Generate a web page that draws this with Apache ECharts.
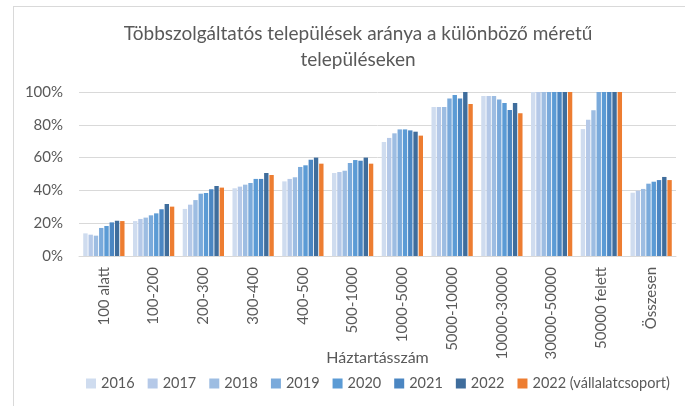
<!DOCTYPE html>
<html>
<head>
<meta charset="utf-8">
<script src="https://cdn.jsdelivr.net/npm/echarts@6/dist/echarts.min.js"></script>
<style>
    html, body { margin: 0; padding: 0; background: #fff; overflow: hidden; }
    #frame { position: absolute; left: 13px; top: 6px; width: 700px; height: 420px; border: 1px solid #d9d9d9; box-sizing: border-box; }
    #chart { position: absolute; left: 0; top: 0; width: 685px; height: 406px; }
</style>
</head>
<body>
<div id="frame"></div>
<div id="chart"></div>
<script>
    // categories (household count bands)
    const categories = ["100 alatt", "100-200", "200-300", "300-400", "400-500", "500-1000",
        "1000-5000", "5000-10000", "10000-30000", "30000-50000", "50000 felett", "Összesen"];

    const seriesNames = ["2016", "2017", "2018", "2019", "2020", "2021", "2022", "2022 (vállalatcsoport)"];
    const colors = ["#cfdcef", "#b5c9e8", "#9dbde2", "#7aaadb", "#5b9bd5", "#4b86c2", "#3f6d9c", "#ed7d31"];

    // values in percent, one array per series
    const v2016 = [13.8, 21.3, 28.7, 41.3, 45.5, 50.6, 69.5, 90.9, 97.6, 100, 77.4, 38.6];
    const v2017 = [13.0, 22.6, 31.3, 42.3, 47.0, 51.2, 72.0, 90.9, 97.6, 100, 83.1, 39.8];
    const v2018 = [12.4, 23.4, 34.1, 43.5, 48.0, 52.0, 74.8, 90.9, 97.6, 100, 88.8, 40.9];
    const v2019 = [17.1, 24.8, 38.0, 44.5, 54.3, 56.7, 77.2, 96.1, 95.5, 100, 100, 44.1];
    const v2020 = [18.3, 26.0, 38.4, 47.0, 55.3, 58.5, 77.2, 98.2, 93.3, 100, 100, 45.3];
    const v2021 = [20.5, 28.5, 40.7, 47.0, 58.7, 58.1, 76.6, 96.1, 89.0, 100, 100, 46.3];
    const v2022 = [21.5, 31.7, 42.7, 50.6, 60.0, 60.0, 75.8, 100, 93.3, 100, 100, 48.2];
    const v2022group = [21.3, 30.1, 41.7, 49.4, 56.3, 56.3, 73.4, 92.7, 87.0, 100, 100, 46.3];
    const seriesValues = [v2016, v2017, v2018, v2019, v2020, v2021, v2022, v2022group];

    const textColor = "#595959";
    const font = "Lato";

    const chart = echarts.init(document.getElementById("chart"), null, { renderer: "canvas" });

    chart.setOption({
        animation: false,
        textStyle: { fontFamily: font, color: textColor },
        title: {
            text: "Többszolgáltatós települések aránya a különböző méretű\ntelepüléseken",
            left: 353,
            top: 16,
            textAlign: "center",
            textStyle: { fontFamily: font, fontSize: 19, fontWeight: "normal", color: textColor, lineHeight: 26 }
        },
        legend: {
            bottom: 10,
            left: 81,
            itemWidth: 10,
            itemHeight: 10,
            itemGap: 13,
            icon: "rect",
            textStyle: { fontFamily: font, fontSize: 14.5, color: textColor },
            data: seriesNames
        },
        grid: { left: 79, right: 9, top: 92, bottom: 150, containLabel: false },
        xAxis: {
            type: "category",
            data: categories,
            name: "Háztartásszám",
            nameLocation: "middle",
            nameGap: 94,
            nameMoveOverlap: false,
            nameTextStyle: { fontFamily: font, fontSize: 16, color: textColor },
            axisLine: { lineStyle: { color: "#d9d9d9" } },
            axisTick: { show: false },
            axisLabel: { rotate: 90, fontFamily: font, fontSize: 15, color: textColor, margin: 11, interval: 0 }
        },
        yAxis: {
            type: "value",
            min: 0,
            max: 100,
            interval: 20,
            axisLine: { show: false },
            axisTick: { show: false },
            axisLabel: { formatter: "{value}%", fontFamily: font, fontSize: 15, color: textColor, margin: 16 },
            splitLine: { lineStyle: { color: "#d9d9d9" } }
        },
        series: seriesNames.map((name, i) => ({
            name: name,
            type: "bar",
            data: seriesValues[i],
            itemStyle: { color: colors[i] },
            barGap: "20%",
            barCategoryGap: "17%"
        }))
    });
</script>
</body>
</html>
